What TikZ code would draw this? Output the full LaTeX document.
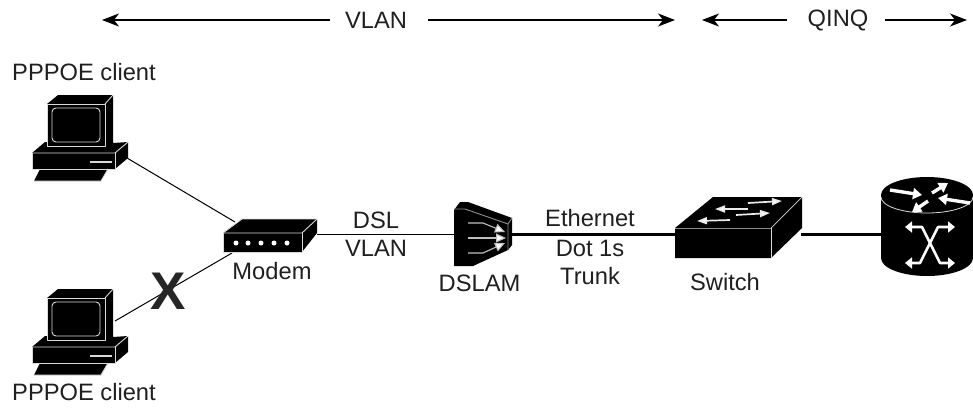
\documentclass[tikz,border=0pt]{standalone}
\usepackage{fontspec}
\setmainfont{Liberation Sans}
\usetikzlibrary{arrows.meta}
\tikzset{
  lab/.style={inner sep=0pt,font=\fontsize{23.7}{26}\selectfont,text=black!88},
  thin link/.style={line width=1pt,black},
  thick link/.style={line width=3pt,black},
  spanr/.style={line width=1.1pt,-{Stealth[length=17pt,width=13pt,inset=5pt]}},
  spanl/.style={line width=1.1pt,{Stealth[length=17pt,width=13pt,inset=5pt]}-},
  edge/.style={draw=black!15,line width=.9pt,line join=round},
  warrow/.style={draw=white,line width=3.4pt,-{Triangle[length=9pt,width=11pt,fill=white]}},
  darrow/.style={draw=black!25,line width=1.1pt,line join=round,-{Triangle[length=10pt,width=9pt,fill=white]}},
  swarrow/.style={draw=black!8,line width=1.7pt,-{Triangle[length=10pt,width=7pt,fill=white]}},
  xarrow/.style={white,line width=2.6pt,line join=round,{Triangle[length=7pt,width=11pt,fill=white]}-{Triangle[length=7pt,width=11pt,fill=white]}},
  pics/computer/.style={code={
    \fill[black] (47,104)--(58,95)--(113,95)--(113,143)--(128,142)--(128,158)--(115,169)--(108,169)--(101,181)--(34,181)--(40,169)--(32,169)--(32,153)--(45,142)--(47,142)--cycle;
    \draw[edge] (47,142)--(47,104)--(105,104)--(105,146)--(47,146)--(47,142);
    \draw[edge] (105,104)--(113,95);
    \draw[edge,rounded corners=4pt] (52,108) rectangle (100,142);
    \draw[edge] (32,153)--(115,153)--(128,142);
    \draw[edge] (32,153)--(32,169)--(115,169)--(115,153);
    \draw[edge] (108,169)--(101,181)--(34,181);
    \fill[black!15] (90,161) rectangle (112,163);
  }}
}
\begin{document}
\begin{tikzpicture}[x=1pt,y=-1pt]
\useasboundingbox (0,0) rectangle (973,408);
% anchors
\coordinate (pc1) at (127,158);
\coordinate (pc2) at (115,321);
\coordinate (modA) at (235,222);
\coordinate (modB) at (232,253);
\coordinate (modR) at (317,234);
\coordinate (dslL) at (456,234);
\coordinate (dslR) at (510,234);
\coordinate (swL) at (676,234);
\coordinate (swR) at (801,234);
\coordinate (rtL) at (882,234);
% span arrows
\coordinate (v1) at (102,20); \coordinate (v2) at (330,20);
\coordinate (v3) at (428,20); \coordinate (v4) at (675,20);
\coordinate (q1) at (702,20); \coordinate (q2) at (787,20);
\coordinate (q3) at (885,20); \coordinate (q4) at (967,20);
\draw[spanl] (v1)--(v2);
\draw[spanr] (v3)--(v4);
\draw[spanl] (q1)--(q2);
\draw[spanr] (q3)--(q4);
\node[lab] (tv) at (376,20) {VLAN};
\node[lab] (tq) at (838,20) {QINQ};
% links
\draw[thin link] (pc1)--(modA);
\draw[thin link] (pc2)--(modB);
\draw[thin link] (modR)--(dslL);
\draw[thick link] (dslR)--(swL);
\draw[thick link] (swR)--(rtL);
% computers
\pic at (0,0) {computer};
\pic at (0,194) {computer};
\node[lab,anchor=west] (c1) at (12,72) {PPPOE client};
\node[lab,anchor=west] (c2) at (12,392) {PPPOE client};
% modem
\fill[black] (223,233)--(242,219)--(317,219)--(317,233)--(302,252)--(223,252)--cycle;
\draw[edge] (223,233)--(302,233)--(317,219);
\draw[edge] (223,233)--(223,252)--(302,252)--(302,233);
\draw[edge] (223,233)--(242,219)--(317,219);
\foreach \x in {236,248,261,274,287} \fill[white] (\x,243) circle (2.5);
\node[lab] (mo) at (272,271) {Modem};
\node[lab] (a1) at (376,220) {DSL};
\node[lab] (a2) at (376,248) {VLAN};
% DSLAM
\fill[black] (454,210)--(460,202)--(468,202)--(512,218)--(512,245)--(508,250)--(473,266)--(454,266)--cycle;
\draw[black!45,line width=.9pt] (454,209)--(465,209)--(508,224)--(508,250);
\draw[black!45,line width=.9pt] (508,224)--(512,218);
\draw[darrow] (468,223)--(483,223)--(505,232);
\draw[darrow] (468,238)--(506,238);
\draw[darrow] (468,253)--(483,253)--(505,243);
\node[lab] (ds) at (479.5,283) {DSLAM};
\node[lab] (e1) at (590,218) {Ethernet};
\node[lab] (e2) at (590,248) {Dot 1s};
\node[lab] (e3) at (590,276) {Trunk};
% switch
\fill[black] (675,228)--(713,197)--(802,197)--(802,228)--(771,258)--(675,258)--cycle;
\draw[draw=black!45,line width=1pt] (675,228)--(771,228);
\draw[draw=black!15,line width=.7pt] (771,228)--(802,197);
\draw[draw=black!15,line width=.7pt] (771,228)--(771,258);
\draw[swarrow] (748,203)--(782,201);
\draw[swarrow] (736,215)--(770,213);
\draw[swarrow] (748,209)--(715,209);
\draw[swarrow] (730,220)--(697,221);
\node[lab] (sw) at (725,282) {Switch};
% router
\fill[black] (881,195) -- (881,258) arc[start angle=180,end angle=0,x radius=46,y radius=18] -- (973,195) -- cycle;
\fill[black] (927,195) ellipse[x radius=46,y radius=18];
\draw[draw=black!15,line width=.8pt] (881,197) arc[start angle=180,end angle=0,x radius=46,y radius=16];
\draw[warrow] (890,190)--(922,195);
\draw[warrow] (932,193)--(948,183);
\draw[warrow] (970,203)--(938,198);
\draw[warrow] (928,201)--(912,212);
\draw[xarrow] (905,227)--(922,227)--(940,263)--(955,263);
\draw[xarrow] (955,227)--(938,227)--(920,263)--(905,263);
% X mark
\node[inner sep=0pt,font=\fontsize{53}{53}\selectfont\bfseries,text=black!85] (xm) at (168,291) {X};
\end{tikzpicture}
\end{document}
